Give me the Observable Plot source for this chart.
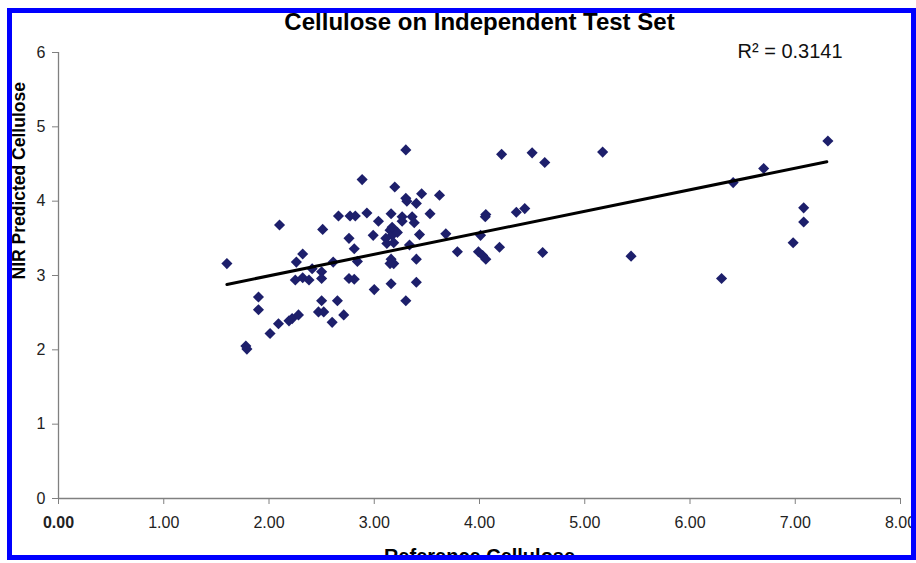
<!DOCTYPE html>
<html>
<head>
<meta charset="utf-8">
<script src="https://cdn.jsdelivr.net/npm/d3@7"></script>
<script src="https://cdn.jsdelivr.net/npm/@observablehq/plot@0.6"></script>
<style>
  html, body { margin: 0; padding: 0; background: white; overflow: hidden; }
  #wrap { position: relative; width: 916px; height: 563px; overflow: hidden; background: white; }
  #frame { position: absolute; left: 7px; top: 8px; width: 909px; height: 552px; box-sizing: border-box;
           border: 5px solid #0000ff; box-shadow: 0 0 0 40px white; pointer-events: none; }
</style>
</head>
<body>
<div id="wrap"><div id="chart"></div><div id="frame"></div></div>
<script>
// Reference cellulose (x) and NIR predicted cellulose (y)
const refX = [1.60, 1.78, 1.79, 1.90, 1.90, 2.01, 2.09, 2.10, 2.19, 2.22,
              2.28, 2.25, 2.32, 2.38, 2.26, 2.32, 2.41, 2.50, 2.50, 2.51,
              2.50, 2.47, 2.52, 2.60, 2.61, 2.65, 2.71, 2.66, 2.77, 2.82,
              2.76, 2.81, 2.76, 2.81, 2.84, 2.885, 2.93, 2.99, 3.00, 3.04,
              3.11, 3.12, 3.15, 3.17, 3.185, 3.16, 3.16, 3.185, 3.15, 3.16,
              3.195, 3.22, 3.265, 3.265, 3.30, 3.30, 3.31, 3.30, 3.335, 3.36,
              3.38, 3.40, 3.40, 3.40, 3.43, 3.45, 3.53, 3.62, 3.68, 3.79,
              3.99, 4.01, 4.03, 4.06, 4.06, 4.055, 4.19, 4.21, 4.35, 4.43,
              4.50, 4.60, 4.62, 5.17, 5.44, 6.30, 6.41, 6.70, 6.98, 7.08,
              7.08, 7.31, 3.17];
const predY = [3.16, 2.05, 2.01, 2.71, 2.54, 2.22, 2.35, 3.68, 2.39, 2.42,
               2.47, 2.94, 2.97, 2.94, 3.18, 3.29, 3.09, 3.05, 2.96, 3.62,
               2.66, 2.51, 2.51, 2.37, 3.18, 2.66, 2.47, 3.80, 3.80, 3.80,
               3.50, 3.36, 2.96, 2.95, 3.19, 4.29, 3.84, 3.54, 2.81, 3.73,
               3.50, 3.43, 3.61, 3.54, 3.44, 3.83, 3.22, 3.16, 3.16, 2.89,
               4.19, 3.58, 3.79, 3.73, 4.69, 4.04, 4.00, 2.66, 3.41, 3.79,
               3.71, 3.97, 3.22, 2.91, 3.55, 4.10, 3.83, 4.08, 3.56, 3.32,
               3.32, 3.54, 3.27, 3.22, 3.82, 3.79, 3.38, 4.63, 3.85, 3.90,
               4.65, 3.31, 4.52, 4.66, 3.26, 2.96, 4.25, 4.44, 3.44, 3.72,
               3.91, 4.81, 3.65];
// Linear trend line end points
const trendX = [1.60, 7.30];
const trendY = [2.88, 4.53];
// Ticks
const xTicks = [0, 1, 2, 3, 4, 5, 6, 7, 8];
const yTicks = [0, 1, 2, 3, 4, 5, 6];
const titleText = "Cellulose on Independent Test Set";
const xTitle = "Reference Cellulose";
const yTitle = "NIR Predicted Cellulose";
const r2Text = "R\u00B2 = 0.3141";

const points = refX.map((x, i) => ({x, y: predY[i]}));
const trend = trendX.map((x, i) => ({x, y: trendY[i]}));

const chart = Plot.plot({
  width: 916,
  height: 563,
  marginLeft: 58,
  marginRight: 16,
  marginTop: 52,
  marginBottom: 65,
  style: {fontFamily: "'Liberation Sans', Arial, sans-serif", fontSize: "16px", color: "#222", background: "white"},
  x: {domain: [0, 8]},
  y: {domain: [0, 6]},
  marks: [
    Plot.ruleY([0], {stroke: "#808080", strokeWidth: 1.3}),
    Plot.ruleX([0], {stroke: "#808080", strokeWidth: 1.3}),
    Plot.axisX({ticks: xTicks, tickFormat: d => d.toFixed(2), tickSize: 6, tickPadding: 12, stroke: "#808080", fill: "#222", label: null,
                fontWeight: d => d === 0 ? "bold" : "normal"}),
    Plot.axisY({ticks: yTicks, tickFormat: d => String(d), tickSize: 6, tickPadding: 7, stroke: "#808080", fill: "#222", label: null}),
    Plot.dot(points, {x: "x", y: "y", symbol: "diamond2", r: 5, fill: "#1d1f6b", stroke: "none"}),
    Plot.line(trend, {x: "x", y: "y", stroke: "black", strokeWidth: 3}),
    Plot.text([titleText], {frameAnchor: "top", text: d => d, dy: -30, fontSize: 24, fontWeight: "bold", fill: "black", lineAnchor: "middle"}),
    Plot.text([xTitle], {frameAnchor: "bottom", text: d => d, dy: 58, fontSize: 20, fontWeight: "bold", fill: "black", lineAnchor: "middle"}),
    Plot.text([yTitle], {frameAnchor: "left", text: d => d, dx: -39, dy: 4, rotate: -90, fontSize: 17.5, fontWeight: "bold", fill: "black", lineAnchor: "middle"}),
    Plot.text([r2Text], {frameAnchor: "top-left", text: d => d, dx: 679, dy: -1, fontSize: 20, fill: "#111", textAnchor: "start", lineAnchor: "middle"})
  ]
});
// Make the "0.00" label look heavier, as in the reference
d3.select(chart).selectAll("g[aria-label='x-axis tick label'] text")
  .filter(function() { return this.textContent === "0.00"; })
  .attr("font-weight", "bold");
document.getElementById("chart").appendChild(chart);
</script>
</body>
</html>
